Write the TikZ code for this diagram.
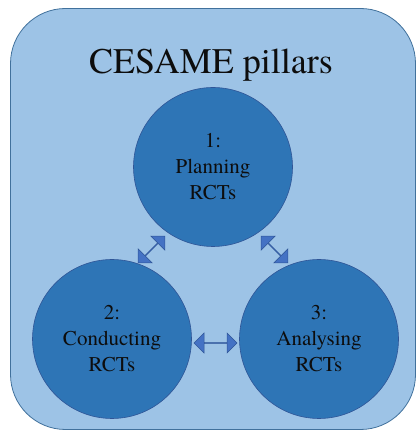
\documentclass[tikz,border=0pt]{standalone}
\usepackage{fontspec}
\setmainfont{texgyretermes-regular.otf}
\usepackage{xcolor}
\usepackage{tikz}
\usetikzlibrary{shapes,arrows}
\definecolor{bpanel}{HTML}{9DC3E6}
\definecolor{bpanelline}{HTML}{41719C}
\definecolor{bpillar}{HTML}{2E75B6}
\definecolor{bpillarline}{HTML}{2F5597}
\definecolor{blink}{HTML}{4472C4}
\tikzstyle{panel} = [rectangle, draw=bpanelline, fill=bpanel, line width=0.8pt, rounded corners=55pt]
\tikzstyle{pillar} = [circle, draw=bpillarline, fill=bpillar, line width=0.6pt, minimum size=159pt, inner sep=0pt, align=center, font=\fontsize{21}{26}\selectfont, text=black!95]
\tikzstyle{link} = [double arrow, draw=bpillarline, fill=blink, line width=0.5pt, inner sep=0pt, minimum width=20pt, minimum height=43pt, double arrow head extend=5.5pt]

\begin{document}
\begin{tikzpicture}[x=1pt, y=1pt]
    \useasboundingbox (0,0) rectangle (416,430);
    % background panel and title
    \path[panel] (10.5,421.5) rectangle (415.5,0.5);
    \node[anchor=base, font=\fontsize{36}{40}\selectfont, text=black!95] at (211,356) (title) {CESAME pillars};

    % pillars
    \node[pillar] at (213,263) (p1) {1:\\Planning\\RCTs};
    \node[pillar] at (112,91) (p2) {2:\\Conducting\\RCTs};
    \node[pillar] at (319,91) (p3) {3:\\Analysing\\RCTs};

    % links between pillars
    \node[link, rotate=45, minimum height=38pt] at (151.5,180.5) (l12) {};
    \node[link, rotate=-45, minimum height=38pt] at (274.5,180.5) (l13) {};
    \node[link] at (215.5,87) (l23) {};
\end{tikzpicture}
\end{document}
